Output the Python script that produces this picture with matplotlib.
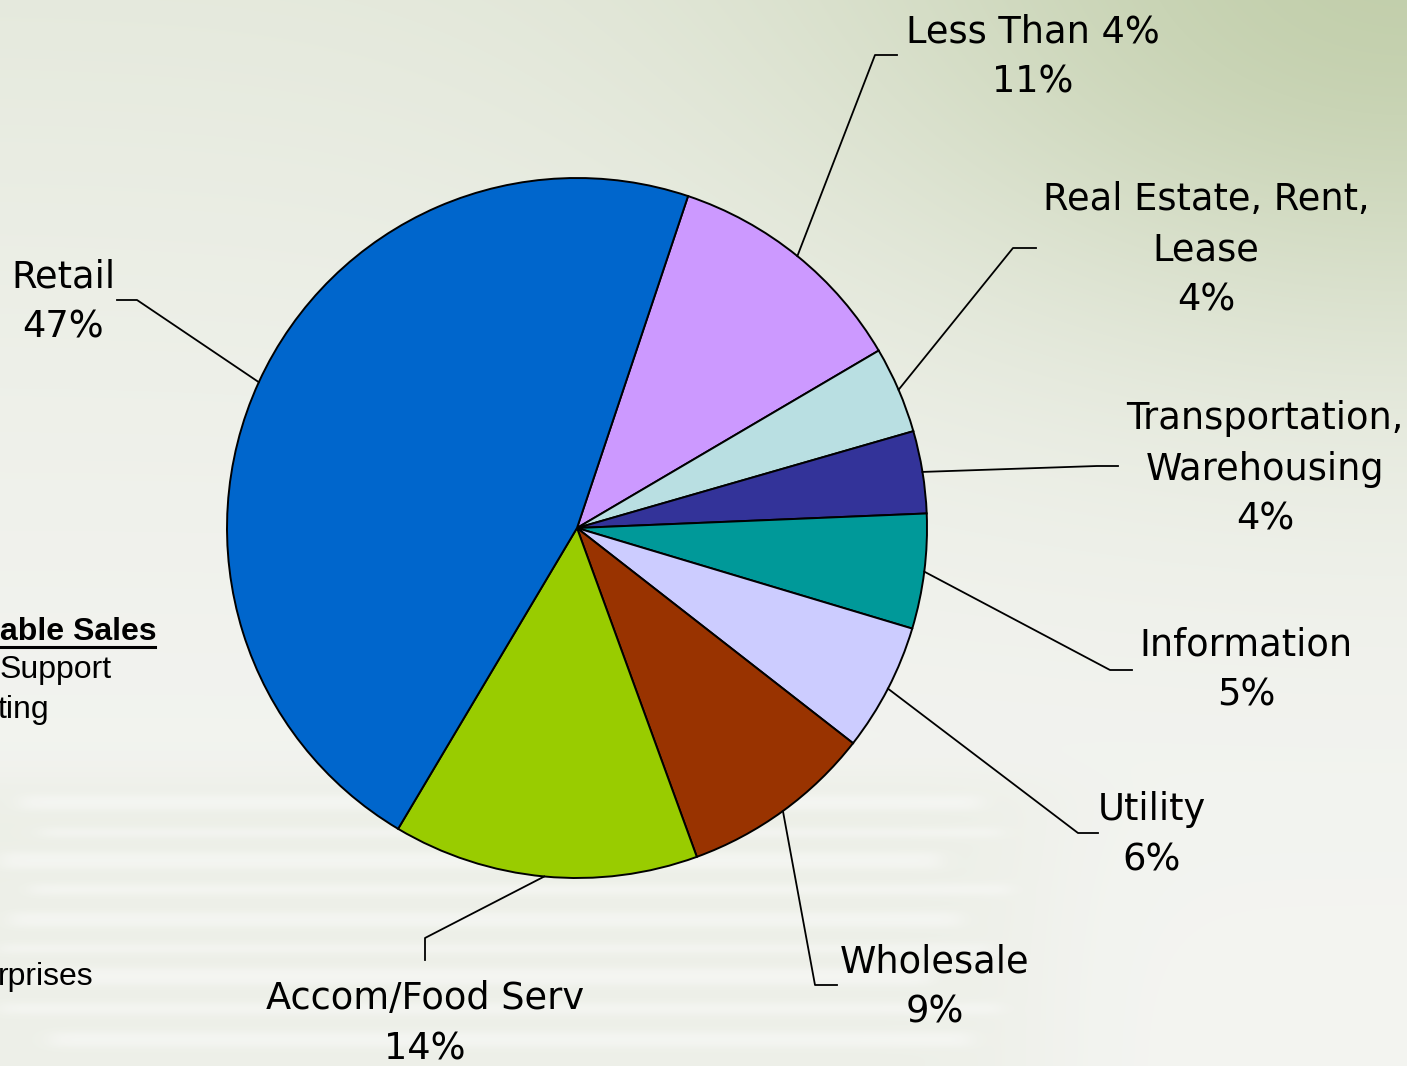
import numpy as np
import matplotlib
matplotlib.use("Agg")
import matplotlib.pyplot as plt

# ---------------- data ----------------
categories = ["Less Than 4%", "Real Estate, Rent,\nLease", "Transportation,\nWarehousing",
              "Information", "Utility", "Wholesale", "Accom/Food Serv", "Retail"]
shares = [11.4, 4.0, 3.8, 5.3, 5.9, 8.9, 14.1, 46.6]
colors = ["#CC99FF", "#B9DFE2", "#333399", "#009999", "#CCCCFF", "#993300", "#99CC00", "#0066CC"]
side_text = ["able Sales", "Support", "ting", "rprises"]

# ---------------- layout ----------------
W, H = 1407, 1066
fig = plt.figure(figsize=(W / 100, H / 100), dpi=100)
ax = fig.add_axes([0, 0, 1, 1])
ax.set_xlim(0, W)
ax.set_ylim(0, H)
ax.set_aspect("equal")
ax.axis("off")

# background gradient (decorative slide background)
yy, xx = np.mgrid[0:H, 0:W].astype(float)
yf = yy / H  # 0 at top
base = np.array([0.955, 0.958, 0.945])
green = np.array([0.76, 0.81, 0.67])
w = 0.28 * (1 - yf) ** 2 + 0.70 * np.exp(-(((W - xx) / 560.0) ** 2 + (yy / 360.0) ** 2))
# soft tinted paper-stack area lower left
sig = lambda z: 1 / (1 + np.exp(-z))
paper = sig((yy - 780) / 12) * sig((1040 - xx) / 40)
w = w + 0.12 * paper
w = np.clip(w, 0, 1)
img = base[None, None, :] * (1 - w[..., None]) + green[None, None, :] * w[..., None]
# white streaks (paper edges)
streak = np.zeros_like(xx)
for (y0, h, x0, x1) in [(795, 14, 20, 980), (828, 8, 40, 1000), (852, 16, 0, 940),
                        (884, 10, 30, 1010), (912, 14, 10, 960), (944, 8, 0, 990),
                        (968, 16, 25, 930), (1003, 10, 0, 1000), (1032, 14, 50, 970)]:
    streak = np.maximum(streak, sig((yy - y0) / 2) * sig((y0 + h - yy) / 2)
                        * sig((xx - x0) / 6) * sig((x1 - xx) / 6))
img = img * (1 - 0.5 * streak[..., None]) + 0.5 * streak[..., None] * 0.985
ax.imshow(img, extent=[0, W, 0, H], origin="upper", zorder=0, aspect="auto")

# pie
cx, cy, R = 577, H - 528, 350
start = 90 - 18.5
wedges, _ = ax.pie(shares, colors=colors, startangle=start, counterclock=False,
                   center=(cx, cy), radius=R, frame=True,
                   wedgeprops=dict(edgecolor="black", linewidth=1.4))
for wdg in wedges:
    wdg.set_zorder(2)
ax.set_xlim(0, W)
ax.set_ylim(0, H)
ax.axis("off")

# label layouts (pixel coords, y from top): elbow point, end of horizontal, text center
label_layout = [
    ((875, 55), (897, 55), (1033, 57)),
    ((1013, 248), (1036, 248), (1206, 250)),
    ((1097, 466), (1118, 466), (1265, 469)),
    ((1110, 670), (1132, 670), (1246, 670)),
    ((1078, 833), (1098, 833), (1152, 835)),
    ((815, 985), (837, 985), (935, 987)),
    ((425, 938), (425, 960), (425, 1024)),
    ((137, 300), (117, 300), (63, 302)),
]
total = sum(shares)
for wdg, cat, v, (elb, end, tc) in zip(wedges, categories, shares, label_layout):
    mid = np.deg2rad((wdg.theta1 + wdg.theta2) / 2)
    sx, sy = cx + R * np.cos(mid), cy + R * np.sin(mid)
    ax.plot([sx, elb[0], end[0]], [sy, H - elb[1], H - end[1]], color="black", lw=1.3, zorder=3)
    ax.text(tc[0], H - tc[1], f"{cat}\n{v / total * 100:.0f}%", ha="center", va="center",
            fontsize=26.5, family="DejaVu Sans", linespacing=1.45, zorder=4)

# cut-off slide text on the left
ax.text(0, H - 632, side_text[0], ha="left", va="center", fontsize=23, fontweight="bold",
        family="Liberation Sans", zorder=4)
ax.plot([0, 155], [H - 647, H - 647], color="black", lw=2.2, zorder=4)
ax.text(0, H - 670, side_text[1], ha="left", va="center", fontsize=23, family="Liberation Sans", zorder=4)
ax.text(-2, H - 710, side_text[2], ha="left", va="center", fontsize=23, family="Liberation Sans", zorder=4)
ax.text(-2, H - 977, side_text[3], ha="left", va="center", fontsize=23, family="Liberation Sans", zorder=4)

fig.savefig("out.png", dpi=100)
